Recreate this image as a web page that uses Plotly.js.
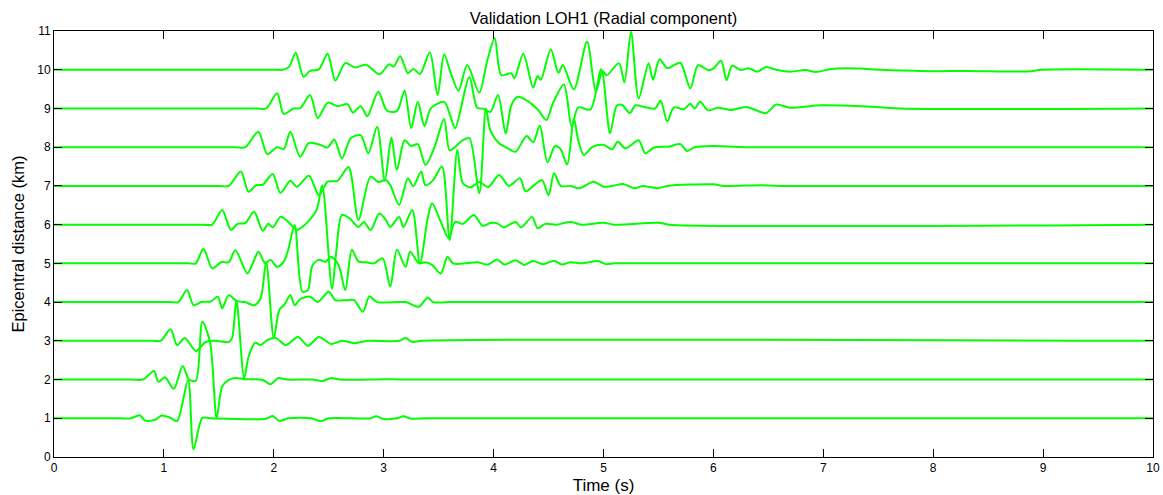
<!DOCTYPE html>
<html><head><meta charset="utf-8">
<script src="https://cdn.plot.ly/plotly-3.0.1.min.js"></script>
<style>html,body{margin:0;padding:0;background:#fff;} #chart{width:1163px;height:495px;}</style>
</head><body><div id="chart"></div>
<script>
// Epicentral distances (km) = baseline offsets of the traces
const distances = [1,2,3,4,5,6,7,8,9,10];
const xTicks = [0,1,2,3,4,5,6,7,8,9,10];
const yTicks = [0,1,2,3,4,5,6,7,8,9,10,11];

// Each trace: [time (s), plotted value] pairs
const trace1 = [[0,1],[0.60,1],[0.70,1],[0.78,1.08],[0.83,0.94],[0.92,0.96],[0.98,1.07],[1.06,1.01],[1.12,0.93],[1.22,1.99],[1.27,0.20],[1.35,1.01],[1.42,1],[1.93,0.99],[1.99,1.06],[2.05,0.93],[2.13,1.0],[2.34,1.0],[2.43,0.92],[2.50,1.0],[2.88,1.0],[2.93,1.05],[3.00,0.98],[3.12,1.0],[3.18,1.05],[3.25,0.99],[3.4,1],[10,1]];
const trace2 = [[0,2],[0.70,2],[0.81,2],[0.91,2.22],[0.95,1.94],[1.01,2.06],[1.09,1.76],[1.17,2.35],[1.23,2.0],[1.29,1.97],[1.35,3.49],[1.42,2.97],[1.48,1.0],[1.53,1.82],[1.59,1.99],[1.65,2.04],[1.74,2.01],[1.90,1.99],[1.97,1.88],[2.04,2.04],[2.12,2.0],[2.35,2.0],[2.44,1.96],[2.52,2.04],[2.60,2.0],[3.02,2.01],[3.2,2],[10,2]];
const trace3 = [[0,3],[0.90,3],[0.97,3],[1.06,3.30],[1.12,2.89],[1.19,3.07],[1.29,2.74],[1.38,2.97],[1.47,3.0],[1.59,2.97],[1.62,3.07],[1.66,4.04],[1.73,2.04],[1.77,2.59],[1.83,2.95],[1.88,2.89],[1.94,3.02],[2.02,3.07],[2.11,2.89],[2.22,3.10],[2.31,2.87],[2.41,3.10],[2.52,2.92],[2.62,3.0],[2.74,2.94],[2.85,3.0],[3.14,3.0],[3.20,3.07],[3.26,2.97],[3.35,3.0],[10,3]];
const trace4 = [[0,4],[1.05,4],[1.13,4],[1.21,4.31],[1.27,3.92],[1.34,4.0],[1.43,4.02],[1.49,4.14],[1.53,3.84],[1.59,4.18],[1.66,4.03],[1.74,4.0],[1.82,3.92],[1.88,4.10],[1.93,5.04],[2.00,3.07],[2.05,3.80],[2.10,3.95],[2.15,4.18],[2.19,3.92],[2.24,4.08],[2.33,4.14],[2.40,4.0],[2.50,4.27],[2.56,4.05],[2.66,4.05],[2.73,4.05],[2.81,3.75],[2.87,4.15],[2.94,4.0],[3.20,4.0],[3.32,3.88],[3.40,4.12],[3.45,4.0],[3.6,4],[10,4]];
const trace5 = [[0,5],[1.22,5],[1.29,5.0],[1.36,5.38],[1.44,4.87],[1.52,5.03],[1.59,5.03],[1.65,5.34],[1.76,4.74],[1.81,5.01],[1.86,5.30],[1.92,5.01],[1.97,5.09],[2.03,4.91],[2.09,5.04],[2.13,5.34],[2.19,5.99],[2.26,4.27],[2.31,4.31],[2.35,4.94],[2.41,5.09],[2.47,5.04],[2.52,5.17],[2.59,4.95],[2.65,4.31],[2.71,5.35],[2.77,5.05],[2.84,5.03],[2.91,5.0],[2.99,5.13],[3.06,4.40],[3.12,5.35],[3.20,4.91],[3.24,5.30],[3.32,5.0],[3.38,5.03],[3.44,4.96],[3.52,4.74],[3.58,5.17],[3.63,5.0],[3.75,5.0],[3.85,5.03],[3.95,4.97],[4.03,5.1],[4.10,4.97],[4.20,5.08],[4.28,4.96],[4.36,5.06],[4.45,4.98],[4.55,5.07],[4.62,4.97],[4.70,5.03],[4.80,5.0],[4.95,5.06],[5.02,4.98],[5.10,5.0],[5.3,5],[10,5]];
const trace6 = [[0,6],[1.36,6],[1.44,6],[1.53,6.38],[1.61,5.86],[1.67,6.02],[1.74,6.04],[1.82,6.33],[1.90,5.84],[1.95,6.02],[1.99,5.93],[2.06,6.20],[2.12,6.10],[2.17,5.96],[2.21,5.86],[2.25,5.92],[2.31,6.07],[2.39,6.38],[2.44,7.02],[2.53,4.34],[2.57,5.35],[2.62,6.25],[2.69,6.16],[2.77,5.94],[2.82,6.07],[2.88,5.86],[2.96,6.29],[3.02,6.12],[3.06,5.94],[3.14,6.20],[3.18,5.94],[3.26,6.38],[3.33,5.0],[3.40,6.16],[3.44,6.55],[3.52,6.07],[3.59,5.65],[3.65,6.07],[3.72,6.02],[3.82,6.25],[3.90,5.97],[3.97,6.04],[4.03,6.04],[4.09,5.93],[4.20,6.07],[4.25,5.93],[4.35,6.20],[4.40,5.91],[4.47,6.02],[4.57,6.0],[4.70,6.07],[4.80,6.0],[5.0,6.05],[5.1,6.0],[5.5,6.05],[5.6,6.0],[10,6]];
const trace7 = [[0,7],[1.50,7],[1.59,7],[1.70,7.37],[1.77,6.85],[1.84,7.02],[1.90,7.03],[1.99,7.31],[2.06,6.82],[2.15,7.13],[2.21,6.98],[2.32,7.26],[2.41,6.76],[2.49,7.11],[2.58,7.13],[2.68,7.49],[2.77,6.12],[2.88,7.24],[2.95,7.10],[3.02,7.15],[3.06,7.02],[3.14,6.51],[3.22,7.20],[3.27,6.99],[3.34,7.37],[3.38,7.02],[3.45,7.15],[3.53,7.50],[3.60,5.60],[3.67,7.93],[3.72,7.07],[3.79,6.96],[3.87,7.10],[3.95,6.97],[4.05,7.28],[4.14,7.0],[4.24,7.20],[4.29,6.86],[4.37,7.02],[4.44,7.15],[4.50,6.76],[4.55,7.33],[4.61,7.0],[4.70,7.0],[4.78,6.94],[4.91,7.11],[5.0,6.98],[5.08,7.0],[5.18,7.05],[5.28,6.94],[5.36,7.0],[5.49,6.94],[5.58,7.0],[6.0,7.04],[6.1,7.0],[6.43,7.02],[6.6,7.0],[10,7]];
const trace8 = [[0,8],[1.65,8],[1.74,8],[1.86,8.40],[1.94,7.82],[2.03,8.0],[2.09,7.95],[2.15,8.40],[2.24,7.75],[2.32,8.11],[2.43,8.05],[2.49,7.99],[2.55,8.20],[2.62,7.71],[2.70,8.23],[2.79,8.31],[2.86,7.84],[2.94,8.53],[3.01,7.13],[3.07,8.25],[3.12,7.41],[3.19,8.18],[3.25,8.03],[3.31,8.08],[3.38,7.54],[3.46,7.98],[3.55,8.73],[3.60,7.92],[3.66,8.03],[3.72,8.18],[3.78,8.23],[3.87,6.81],[3.93,9.00],[3.97,8.44],[4.05,8.10],[4.13,7.97],[4.20,7.88],[4.30,8.29],[4.36,8.13],[4.42,8.56],[4.49,7.61],[4.56,8.03],[4.61,7.95],[4.67,7.55],[4.73,8.75],[4.77,8.18],[4.82,7.80],[4.90,8.01],[5.0,8.06],[5.08,7.95],[5.13,8.14],[5.20,7.97],[5.32,8.18],[5.38,7.84],[5.46,7.99],[5.60,8.02],[5.70,8.08],[5.76,7.90],[5.83,8.0],[6.0,8.03],[6.3,8.0],[10,8]];
const trace9 = [[0,9],[1.85,9],[1.93,9],[2.03,9.39],[2.09,8.86],[2.18,9.0],[2.24,9.01],[2.33,9.35],[2.40,8.75],[2.49,9.15],[2.58,9.06],[2.67,9.11],[2.72,8.89],[2.79,9.06],[2.85,8.80],[2.95,9.43],[3.03,8.94],[3.12,8.93],[3.19,9.46],[3.25,8.49],[3.31,9.17],[3.37,8.55],[3.43,9.01],[3.55,9.17],[3.61,8.77],[3.65,8.49],[3.78,9.81],[3.85,9.02],[3.91,8.99],[3.97,8.91],[4.04,9.35],[4.11,8.35],[4.16,9.07],[4.22,9.30],[4.31,9.19],[4.40,8.98],[4.48,8.70],[4.54,9.14],[4.64,9.62],[4.71,8.53],[4.77,9.03],[4.88,8.97],[4.98,10.01],[5.06,8.36],[5.12,9.07],[5.17,9.09],[5.24,8.88],[5.29,9.08],[5.38,9.03],[5.47,9.0],[5.52,9.20],[5.58,8.66],[5.64,9.03],[5.73,8.98],[5.79,9.12],[5.83,9.0],[5.88,9.17],[5.95,8.95],[6.04,9.02],[6.16,8.96],[6.30,9.04],[6.48,8.88],[6.57,9.1],[6.70,9.02],[6.98,9.08],[7.34,9.06],[7.70,9.0],[10,9]];
const trace10 = [[0,10],[2.0,10],[2.08,10.0],[2.14,10.08],[2.20,10.44],[2.27,9.82],[2.33,9.97],[2.41,10.01],[2.49,10.41],[2.56,9.72],[2.65,10.17],[2.74,10.06],[2.84,10.13],[2.96,9.88],[3.05,10.14],[3.09,10.08],[3.15,10.35],[3.22,9.91],[3.27,10.02],[3.33,9.89],[3.42,10.45],[3.49,9.35],[3.55,10.40],[3.61,9.91],[3.68,9.46],[3.76,10.12],[3.87,9.41],[3.94,10.21],[4.01,10.81],[4.07,9.86],[4.16,9.91],[4.19,9.78],[4.27,10.41],[4.36,9.54],[4.40,9.84],[4.43,9.74],[4.52,10.52],[4.59,9.92],[4.63,10.12],[4.73,9.49],[4.85,10.72],[4.93,9.43],[4.99,9.96],[5.03,9.86],[5.14,10.17],[5.19,9.67],[5.25,10.98],[5.32,9.26],[5.41,10.17],[5.45,9.74],[5.51,10.27],[5.58,10.04],[5.63,10.1],[5.70,10.18],[5.79,9.52],[5.86,10.12],[5.95,9.99],[6.0,10.03],[6.07,10.23],[6.12,9.73],[6.17,10.1],[6.25,9.99],[6.32,10.04],[6.40,9.95],[6.48,10.07],[6.57,10.0],[6.70,9.95],[6.84,9.99],[6.93,9.94],[7.07,10.02],[7.21,10.04],[7.34,10.03],[7.52,10.0],[7.71,9.98],[7.98,9.96],[8.3,9.97],[8.89,9.96],[8.98,10.0],[10,10]];

const traces = [trace1,trace2,trace3,trace4,trace5,trace6,trace7,trace8,trace9,trace10];
const FONT = '"Liberation Sans", Arial, Helvetica, sans-serif';

const data = traces.map((tr, i) => ({
  x: tr.map(p => p[0]),
  y: tr.map(p => p[1]),
  name: distances[i] + ' km',
  type: 'scatter',
  mode: 'lines',
  line: {color: '#00ff00', width: 2, shape: 'spline', smoothing: 0.8},
  hoverinfo: 'skip'
}));

const axisCommon = {
  ticks: 'inside', ticklen: 8, tickwidth: 1, tickcolor: '#000',
  showline: true, linecolor: '#000', linewidth: 1, mirror: 'ticks',
  showgrid: false, zeroline: false, fixedrange: true,
  tickfont: {family: FONT, size: 12, color: '#000'}
};

const layout = {
  width: 1163, height: 495,
  margin: {l: 54, r: 10, t: 31, b: 38, pad: 0},
  paper_bgcolor: '#fff', plot_bgcolor: '#fff',
  showlegend: false,
  font: {family: FONT, color: '#000'},
  title: {text: 'Validation LOH1 (Radial component)', font: {family: FONT, size: 16.5, color: '#000'},
          x: 0.5, xref: 'paper', xanchor: 'center', y: 1 - 18/495, yref: 'container', yanchor: 'middle'},
  xaxis: Object.assign({}, axisCommon, {range: [0, 10], tickvals: xTicks, ticktext: xTicks.map(String),
          title: {text: 'Time (s)', font: {family: FONT, size: 17, color: '#000'}, standoff: 6}}),
  yaxis: Object.assign({}, axisCommon, {range: [0, 11], tickvals: yTicks, ticktext: yTicks.map(String),
          title: {text: 'Epicentral distance (km)', font: {family: FONT, size: 16.5, color: '#000'}, standoff: 8}})
};

Plotly.newPlot('chart', data, layout, {staticPlot: true, displayModeBar: false});
</script></body></html>
